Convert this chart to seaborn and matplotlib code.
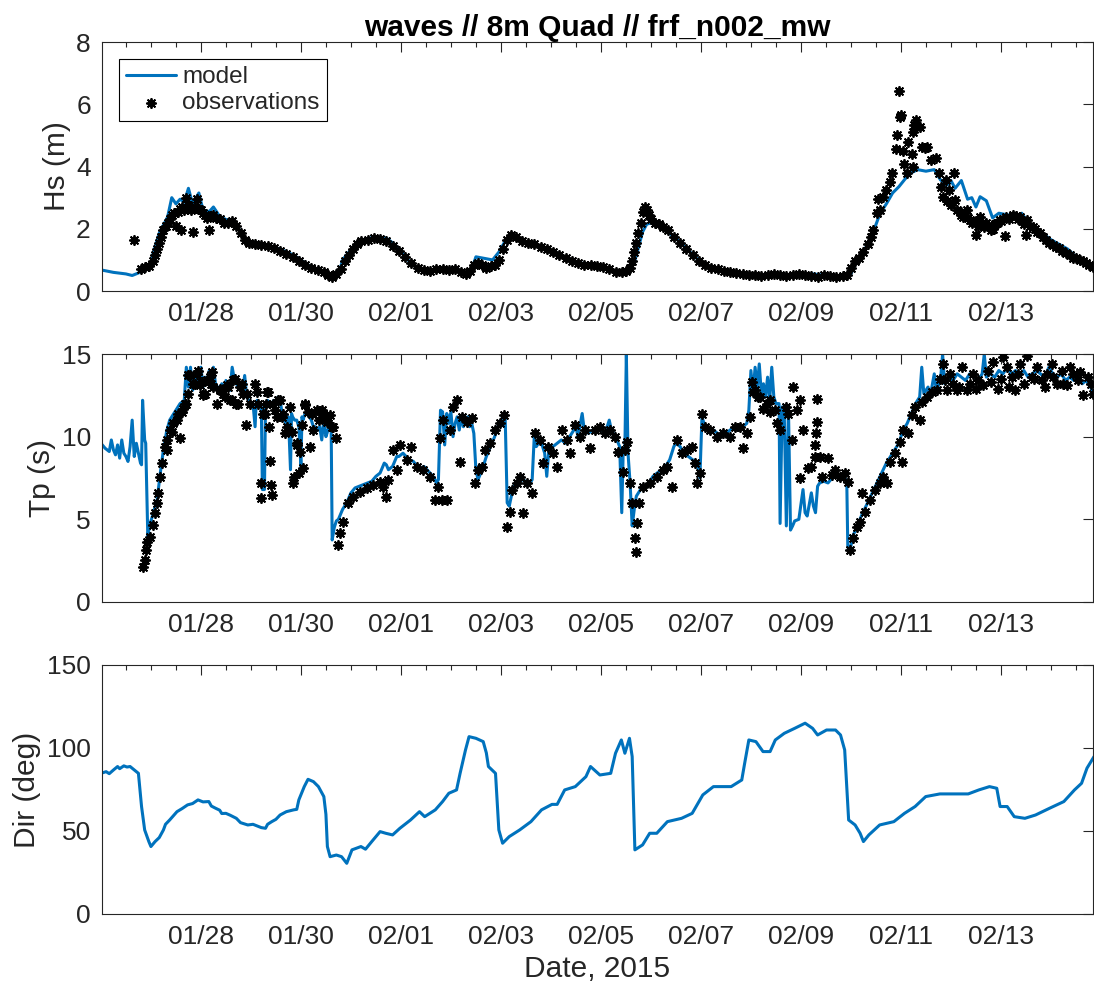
import numpy as np
import pandas as pd
import matplotlib
matplotlib.use("Agg")
import matplotlib.pyplot as plt
import matplotlib.dates as mdates
import matplotlib.ticker as mticker
import seaborn as sns

# ---------------- data (hours since 2015-01-26 00:00) ----------------
hs_model_hours = [0, 6, 12, 15, 18, 21, 24, 25, 28, 32, 34, 36, 38, 40, 42, 44, 47, 49, 52, 54, 57, 60, 64,
                  67, 70, 75, 78, 81, 86, 91, 95, 99, 104, 107, 110, 112, 115, 116, 119, 122, 126, 129, 132,
                  137, 140, 144, 148, 153, 158, 163, 168, 172, 175, 178, 180, 184, 188, 191, 194, 197, 200,
                  205, 212, 218, 224, 230, 236, 242, 246, 250, 253, 256, 258, 260, 262, 265, 270, 275, 280,
                  285, 290, 296, 302, 310, 318, 324, 330, 336, 342, 348, 354, 358, 360, 362, 365, 368, 371,
                  374, 377, 380, 383, 386, 389, 392, 396, 400, 403, 406, 408, 410, 413, 416, 418, 420, 422,
                  425, 428, 431, 435, 440, 442, 444, 448, 452, 456, 460, 464, 468, 472, 476]
hs_model_vals = [0.68, 0.6, 0.55, 0.5, 0.58, 0.68, 0.85, 1.2, 1.86, 2.38, 3.0, 2.8, 2.95, 2.85, 3.3, 2.8, 3.15,
                 2.6, 2.55, 2.7, 2.4, 2.3, 2.25, 1.9, 1.6, 1.55, 1.5, 1.45, 1.35, 1.2, 1.05, 0.85, 0.7, 0.6,
                 0.45, 0.5, 0.75, 1.0, 1.25, 1.45, 1.6, 1.7, 1.75, 1.7, 1.55, 1.3, 0.95, 0.68, 0.65, 0.7, 0.72,
                 0.65, 0.55, 0.7, 1.1, 1.05, 1.0, 1.25, 1.6, 1.8, 1.7, 1.55, 1.4, 1.25, 1.05, 0.9, 0.85, 0.75,
                 0.65, 0.6, 0.65, 0.9, 1.4, 1.9, 2.15, 2.2, 2.0, 1.75, 1.45, 1.1, 0.85, 0.7, 0.6, 0.55, 0.48,
                 0.5, 0.45, 0.5, 0.55, 0.5, 0.48, 0.45, 0.55, 0.85, 1.15, 1.5, 1.95, 2.5, 2.8, 3.15, 3.35, 3.6,
                 3.8, 3.9, 3.85, 3.9, 3.57, 3.4, 3.55, 3.3, 3.55, 2.95, 3.0, 2.7, 3.03, 2.9, 2.35, 2.5, 2.45,
                 2.4, 2.5, 2.3, 2.0, 1.85, 1.65, 1.5, 1.35, 1.1, 0.9, 0.8]

hs_obs_hours = [16, 19, 21, 23, 25, 26, 27, 28, 29, 30, 31, 32, 33, 34, 35, 36, 37, 38, 38.5, 39, 40, 41, 42,
                43, 44, 45, 46, 47, 48, 49, 50, 51, 52, 53, 54, 55, 57, 59, 61, 63, 65, 67, 69, 71, 74, 77,
                80, 83, 86, 89, 92, 95, 98, 101, 104, 107, 109, 111, 113, 115, 117, 119, 121, 123, 125, 128,
                131, 134, 137, 140, 143, 146, 149, 152, 155, 158, 161, 164, 167, 170, 173, 175, 177, 179, 181,
                183, 185, 187, 189, 191, 193, 195, 197, 199, 202, 205, 208, 211, 214, 217, 220, 223, 226, 229,
                232, 235, 238, 241, 244, 247, 250, 252, 254, 255, 256, 257, 258, 259, 260, 261, 262, 263, 264,
                266, 268, 270, 272, 275, 278, 281, 284, 287, 290, 293, 296, 299, 302, 305, 308, 311, 314, 317,
                320, 323, 326, 329, 332, 335, 338, 341, 344, 347, 350, 353, 356, 358, 360, 362, 364, 366, 368,
                369.5, 370.7, 372.3, 373, 374, 375.5, 377, 378.7, 379.5, 381.6, 382, 383.5, 384, 383, 385,
                385.5, 386.7, 387.5, 389.5, 389.8, 390, 390.5, 391.4, 393, 394, 395.5, 396.5, 398.6, 401,
                402.5, 403, 404, 405.6, 406, 407, 408, 409.5, 410, 411, 412.6, 413, 414, 415.7, 416, 417, 418,
                419.8, 420, 421, 422, 423, 424, 425, 426, 427, 428.3, 429, 430, 431.5, 432, 433, 434, 434.6,
                436, 437.8, 439, 440, 441, 442, 443, 444, 444.5, 446, 447.4, 448.5, 449.5, 450.6, 452, 453.8,
                455, 457, 458.5, 460, 461.5, 463.4, 465, 466.6, 468, 470, 471.5, 473, 474.5, 476]
hs_obs_vals = [1.64, 0.72, 0.78, 0.82, 0.95, 1.15, 1.35, 1.55, 1.75, 1.95, 2.1, 2.2, 2.3, 2.45, 2.5, 2.1, 2.55,
               2.65, 1.95, 2.7, 2.6, 3.0, 2.75, 2.6, 1.9, 2.7, 2.95, 2.65, 2.6, 2.5, 2.45, 2.35, 1.95, 2.4, 2.45,
               2.35, 2.3, 2.2, 2.2, 2.25, 2.1, 1.85, 1.65, 1.55, 1.5, 1.48, 1.45, 1.38, 1.3, 1.2, 1.1, 0.95,
               0.85, 0.75, 0.68, 0.6, 0.5, 0.45, 0.55, 0.7, 0.95, 1.15, 1.35, 1.5, 1.6, 1.65, 1.7, 1.68, 1.6,
               1.45, 1.3, 1.1, 0.9, 0.75, 0.68, 0.65, 0.7, 0.7, 0.68, 0.72, 0.6, 0.55, 0.65, 0.85, 0.9, 0.85,
               0.75, 0.8, 0.85, 1.0, 1.35, 1.65, 1.8, 1.75, 1.6, 1.55, 1.5, 1.4, 1.35, 1.25, 1.15, 1.05, 0.98,
               0.9, 0.85, 0.85, 0.82, 0.78, 0.7, 0.62, 0.6, 0.65, 0.75, 0.95, 1.25, 1.55, 1.85, 2.2, 2.55, 2.7,
               2.6, 2.45, 2.3, 2.2, 2.15, 2.05, 1.95, 1.75, 1.55, 1.35, 1.15, 0.95, 0.85, 0.75, 0.7, 0.65, 0.6,
               0.58, 0.55, 0.52, 0.5, 0.48, 0.5, 0.55, 0.5, 0.48, 0.5, 0.55, 0.52, 0.48, 0.45, 0.5, 0.48, 0.45,
               0.48, 0.5, 0.75, 0.95, 1.05, 1.25, 1.5, 1.75, 1.96, 2.5, 2.95, 2.6, 3.03, 3.25, 3.5, 3.78, 4.55,
               5.0, 5.6, 5.65, 6.44, 4.5, 4.08, 3.78, 4.8, 4.4, 5.12, 4.0, 5.34, 5.5, 5.28, 4.64, 4.6, 4.64, 4.2,
               4.27, 3.78, 3.35, 3.03, 3.57, 2.9, 3.25, 2.75, 3.78, 2.93, 2.6, 2.55, 2.45, 2.39, 2.6, 2.35, 2.28,
               2.2, 1.8, 2.25, 2.1, 2.39, 2.2, 2.05, 2.18, 2.1, 1.95, 2.0, 2.15, 2.2, 2.28, 2.25, 2.3, 1.78, 2.39,
               2.3, 2.44, 2.4, 2.3, 2.39, 2.25, 2.15, 1.8, 2.28, 2.1, 2.07, 2.0, 1.9, 1.85, 1.75, 1.64, 1.55,
               1.48, 1.42, 1.37, 1.3, 1.21, 1.15, 1.05, 1.05, 1.0, 0.95, 0.89, 0.85, 0.78]

tp_model_hours = [0, 2, 4, 5, 6, 7, 8, 9, 10, 11, 12, 13, 14, 15, 16, 17, 18, 19, 19.5, 20, 21, 21.5, 22.5, 23.5,
                  25, 27, 28.5, 30, 31.5, 33, 35, 37, 38, 40, 41, 42, 43, 44, 45, 46, 47, 48, 49, 50, 51, 52, 53,
                  54, 55, 56, 57, 58, 59, 60, 61, 62, 63, 64, 65, 66, 67, 68, 69, 70, 71, 72, 73, 74, 74.5, 75,
                  76, 77, 77.5, 78.5, 79, 80, 81, 82, 83, 84, 85, 86, 87, 88, 89, 90, 91, 91.5, 92, 93, 94, 95,
                  96, 96.5, 97, 98, 99, 100, 101, 102, 103, 104, 105, 106, 107, 108, 109, 110, 110.5, 111, 112,
                  113, 114, 116, 118, 120, 122, 124, 126, 128, 130, 132, 134, 136, 137, 138, 140, 142, 143, 145,
                  148, 150, 153, 155, 158, 160, 161, 162, 163, 164, 165, 166, 167, 168, 169, 170, 171, 172, 173,
                  174, 175, 176, 177, 178, 179, 180, 181, 183, 185, 187, 189, 191, 193, 194, 195, 196, 198, 200,
                  202, 204, 206, 207, 208, 209, 210, 211, 212, 213, 214, 215, 217, 219, 221, 223, 224, 226, 228,
                  229, 231, 232, 234, 236, 238, 240, 242, 244, 245, 247, 249, 250, 250.7, 251.5, 252.2, 253, 254,
                  255, 256, 257, 259, 261, 263, 265, 267, 269, 271, 273, 275, 276, 278, 280, 282, 284, 286, 287.5,
                  288.5, 290, 292, 294, 296, 298, 300, 302, 304, 306, 308, 310, 311, 312, 313, 314, 315, 316, 317,
                  318, 319, 320, 321, 322, 323, 324, 325.5, 326, 327, 328, 329, 330, 331, 332, 333, 335, 337, 338,
                  339, 341, 342, 343, 344, 345, 347, 349, 351, 353, 355, 357, 358, 358.5, 360, 361, 363, 365, 368,
                  371, 374, 377, 380, 383, 385, 387, 389, 391, 393, 394, 395, 397, 398, 400, 401, 403, 404, 405,
                  407, 409, 411, 413, 415, 417, 419, 421, 423, 424, 425, 427, 429, 431, 433, 435, 437, 439, 441,
                  443, 445, 447, 449, 451, 453, 455, 457, 459, 461, 463, 465, 467, 469, 471, 473, 475, 476.5]
tp_model_vals = [9.6, 9.3, 9.1, 9.8, 9.2, 8.9, 9.5, 8.7, 9.8, 9.0, 8.8, 8.5, 9.4, 11.0, 8.8, 9.6, 9.0, 8.4, 8.3,
                 12.2, 9.8, 9.6, 4.0, 4.7, 5.3, 6.2, 7.8, 9.2, 10.3, 11.0, 11.4, 11.8, 12.0, 12.2, 14.2, 13.0,
                 14.2, 12.8, 13.2, 13.7, 13.3, 14.2, 13.0, 13.6, 13.2, 14.0, 13.5, 14.2, 13.2, 13.0, 12.8, 13.2,
                 12.9, 13.4, 13.0, 12.8, 14.2, 13.5, 13.2, 13.0, 13.2, 12.8, 13.7, 12.4, 12.2, 11.8, 12.0, 10.6,
                 12.0, 12.2, 12.0, 11.8, 6.8, 6.8, 12.0, 12.2, 11.8, 12.0, 12.2, 11.9, 12.4, 12.2, 11.4, 11.0,
                 10.8, 11.2, 8.0, 11.4, 11.2, 11.0, 11.0, 10.6, 8.2, 11.2, 11.0, 11.4, 11.4, 11.2, 11.0, 10.6,
                 10.6, 10.4, 10.6, 9.8, 11.0, 10.0, 10.4, 11.0, 10.8, 3.75, 4.5, 4.9, 5.0, 5.6, 6.0, 6.6, 6.9,
                 7.0, 7.1, 7.2, 7.3, 7.6, 7.8, 8.4, 8.3, 8.0, 8.2, 8.8, 8.8, 9.0, 8.6, 8.5, 8.0, 8.2, 7.8, 7.5,
                 7.2, 7.4, 11.6, 11.5, 9.5, 11.4, 10.8, 11.5, 10.0, 10.8, 11.2, 10.4, 11.2, 10.6, 11.0, 11.2,
                 10.6, 10.8, 10.2, 8.0, 7.4, 8.0, 8.8, 9.4, 10.0, 10.8, 11.2, 11.4, 6.0, 5.8, 7.0, 7.2, 7.4, 7.3,
                 7.2, 7.4, 10.0, 9.4, 9.6, 9.8, 9.4, 9.0, 7.6, 9.2, 9.4, 9.6, 9.8, 9.6, 9.8, 10.2, 10.6, 10.0,
                 11.4, 10.4, 10.2, 10.4, 10.4, 10.4, 10.2, 11.0, 10.4, 10.0, 9.4, 5.4, 9.2, 9.4, 15.0, 9.0, 7.2,
                 4.6, 5.6, 6.4, 6.8, 7.0, 7.2, 7.6, 7.8, 8.0, 8.2, 8.6, 9.4, 9.6, 9.4, 9.0, 8.8, 8.6, 8.5, 7.5,
                 11.2, 10.6, 10.4, 10.4, 10.2, 10.0, 10.2, 10.4, 10.6, 10.6, 10.6, 10.8, 11.6, 14.0, 12.6, 14.2,
                 13.0, 14.4, 12.6, 13.2, 12.4, 13.6, 12.2, 14.2, 12.4, 12.0, 12.0, 4.75, 11.8, 11.4, 4.6, 11.8,
                 4.35, 4.6, 4.9, 5.0, 6.8, 5.4, 5.2, 6.6, 5.8, 5.4, 7.0, 7.2, 7.3, 7.2, 7.5, 7.6, 7.4, 7.5, 7.3,
                 3.3, 3.4, 4.0, 4.6, 5.2, 6.0, 6.8, 7.6, 8.4, 9.0, 9.6, 10.4, 10.8, 11.4, 12.0, 12.4, 14.2, 12.6,
                 13.0, 12.4, 13.8, 12.8, 13.4, 15.0, 13.2, 13.6, 13.4, 13.8, 13.6, 13.4, 13.8, 13.6, 13.4, 13.8,
                 15.0, 13.6, 13.8, 13.6, 14.0, 13.8, 14.2, 13.8, 14.0, 13.8, 14.0, 13.6, 13.8, 14.0, 13.8, 13.6,
                 14.2, 13.8, 13.6, 13.8, 13.4, 13.6, 13.4, 13.6, 13.2, 13.4, 13.0, 12.6]

# observed Tp as (hour, value) pairs
tp_obs = [(20, 2.14), (21, 2.54), (21.5, 3.15), (22.2, 3.65), (23.5, 3.95), (25, 4.66), (26, 5.36), (27, 5.97),
          (27.5, 6.57), (28.3, 7.58), (29.4, 8.39), (30.7, 9.4), (31.5, 9.2), (31.8, 9.8), (33, 10.4),
          (33.9, 10.3), (34.7, 10.8), (36.3, 11.0), (37.9, 9.9), (37, 11.4), (38.7, 11.5), (39.5, 11.7),
          (40.3, 12.0), (41, 12.0), (41.9, 13.7), (42, 12.6), (42.7, 13.7), (44.3, 13.2), (45.1, 13.2),
          (45.9, 13.8), (46.7, 14.0), (47.5, 13.1), (48.3, 13.3), (49, 12.5), (49.9, 12.6), (50.7, 13.4),
          (52.3, 13.6), (52.6, 13.2), (53.1, 13.9), (53.9, 13.0), (55.5, 12.0), (57, 12.9), (57.1, 12.8),
          (58.7, 12.6), (59.5, 12.4), (60.3, 13.1), (61.1, 13.0), (62, 12.2), (62.7, 12.2), (63.5, 13.4),
          (64.3, 13.5), (65, 12.0), (65.9, 12.0), (66.7, 13.0), (67.5, 13.2), (68.3, 12.6), (69.6, 10.7),
          (69.9, 12.6), (71.5, 12.0), (73.9, 13.2), (74.7, 12.7), (75.5, 12.0), (76.6, 7.2), (77, 6.27),
          (77.9, 11.4), (78.7, 11.4), (79.2, 12.0), (79.5, 12.7), (80.3, 12.7), (80.8, 10.6), (81.1, 8.5),
          (81.4, 7.08), (81.9, 6.47), (82.7, 12.0), (83.5, 11.6), (84.3, 11.2), (85, 12.2), (85.9, 12.2),
          (86.7, 11.2), (87.5, 11.4), (88.3, 10.2), (89.1, 10.6), (90.7, 11.8), (91.5, 10.3), (92, 7.2),
          (92.6, 7.58), (93.9, 9.5), (94, 9.6), (95.2, 7.78), (95.5, 9.1), (96.3, 10.7), (97, 8.1),
          (97.9, 12.0), (98, 11.9), (99.5, 11.5), (100.3, 9.4), (101.2, 11.4), (101.9, 10.4), (103.5, 11.6),
          (104.5, 11.0), (105.9, 11.4), (106, 11.6), (107.5, 11.0), (108.3, 10.9), (109.1, 11.2),
          (109.9, 11.3), (110.7, 10.6), (111.5, 10.6), (113, 9.9), (114, 3.45), (114.7, 4.15), (116.3, 4.86),
          (118.7, 5.97), (121, 6.37), (124.3, 6.67), (127.5, 6.88), (130.7, 7.08), (134, 7.28), (135.5, 6.98),
          (137, 6.37), (138, 7.38), (140.3, 9.19), (142, 7.98), (143.5, 9.5), (146.7, 8.59), (149, 9.4),
          (151.5, 8.19), (154.7, 7.98), (158, 7.58), (160.3, 6.17), (162, 6.98), (163.6, 6.17), (162.8, 9.9),
          (164.4, 11.0), (166, 6.17), (167.6, 10.4), (169.2, 11.8), (171, 12.2), (172.4, 8.49), (173.2, 11.2),
          (175.6, 10.9), (178, 11.1), (179.6, 7.18), (181.2, 7.98), (182.8, 8.19), (184.4, 9.19), (186.8, 9.6),
          (189.2, 10.4), (191.6, 10.8), (193.5, 11.3), (194.8, 4.56), (196.4, 5.46), (197.2, 6.77),
          (199.6, 7.18), (201.2, 7.58), (202.5, 5.36), (204.4, 7.18), (206.8, 6.57), (208.4, 10.2),
          (210.8, 9.8), (212.4, 8.39), (214.8, 9.4), (217.2, 8.99), (218.8, 8.19), (221.2, 10.4), (223.6, 9.8),
          (225.2, 8.99), (227.6, 10.7), (230, 10.0), (232.4, 10.4), (234.8, 9.29), (237.2, 10.4),
          (239.6, 10.6), (242, 10.2), (244.4, 10.4), (246.8, 10.0), (248.4, 9.09), (250.8, 7.88),
          (251.6, 9.19), (252.4, 9.7), (254, 7.18), (254.8, 5.97), (256.4, 3.85), (256.6, 3.04), (257.2, 4.76),
          (258.5, 5.97), (260.4, 6.98), (263.6, 7.18), (266.8, 7.58), (270, 7.98), (271.6, 8.19), (274, 6.98),
          (276.4, 9.8), (278.8, 8.99), (281.2, 9.19), (283.6, 9.4), (285.2, 8.39), (286, 7.18), (287.6, 7.78),
          (288.4, 11.4), (290, 10.6), (292.4, 10.4), (295.6, 10.0), (298.8, 10.2), (302, 10.0), (304.4, 10.6),
          (306.8, 10.6), (308.4, 9.29), (310, 10.2), (311.6, 11.2), (312.4, 13.3), (313.1, 12.7), (314, 12.8),
          (315.6, 12.4), (316.3, 12.4), (318, 11.7), (319.6, 12.0), (321, 11.5), (321.2, 12.2), (323.6, 11.6),
          (324.3, 10.8), (325.9, 10.4), (329, 11.8), (330, 11.4), (331.6, 9.8), (332, 13.0), (334, 11.6),
          (335.4, 12.2), (335.7, 7.48), (337, 10.4), (339.5, 8.08), (341, 8.19), (342.6, 8.79), (342.9, 9.5),
          (343.2, 10.2), (343.5, 10.9), (343.8, 12.3), (345, 8.79), (346, 7.58), (349, 8.69), (350.7, 7.68),
          (352.3, 7.98), (354.7, 7.58), (357, 7.78), (358.8, 7.28), (359.6, 3.15), (361.2, 3.85),
          (362.8, 4.56), (364.4, 4.86), (365.2, 6.57), (366.8, 5.46), (369.2, 6.17), (371.6, 6.77),
          (374, 7.18), (375.6, 7.58), (377.2, 7.18), (378.8, 8.49), (381.2, 8.99), (383.6, 9.7), (384.4, 8.49),
          (385.2, 10.4), (387.6, 10.2), (389.2, 11.3), (390.8, 11.8), (393.2, 11.0), (394, 12.1),
          (396.4, 12.4), (398.8, 12.7), (401.2, 12.8), (402.8, 13.5), (404.4, 14.4), (405, 13.4), (406, 12.8),
          (407.6, 13.8), (409, 13.2), (410.8, 12.8), (412, 13.0), (413.2, 14.2), (415.6, 12.8), (417, 13.2),
          (418.8, 13.8), (420, 12.9), (421.2, 13.4), (423.6, 13.1), (426, 14.0), (427, 13.3), (428.4, 14.5),
          (430.8, 12.9), (432, 13.5), (433.2, 14.8), (434.8, 14.2), (436, 13.0), (437.2, 13.6), (438.8, 12.8),
          (440, 13.8), (441.2, 14.4), (443, 13.2), (444.4, 14.9), (446.8, 13.6), (448, 13.5), (449.2, 14.2),
          (451.6, 13.4), (453, 13.0), (454, 13.8), (456.4, 14.4), (457, 13.6), (458.8, 13.2), (461.2, 14.0),
          (462, 13.2), (463.6, 13.1), (465, 14.2), (466.8, 13.8), (469.2, 13.4), (470, 13.9), (471.6, 12.5),
          (474, 13.6), (475, 13.2), (476.4, 12.6)]

# modelled direction as (hour, value) pairs
dir_model = [(0, 84.7), (2.5, 85.7), (4, 84.5), (6, 86.7), (8, 88.8), (9, 87.5), (11, 89.2), (12.5, 88.5),
             (14, 88.8), (17, 85.7), (18, 84.7), (19.5, 64.7), (21, 50.6), (23, 43.6), (24, 40.6), (26, 43.6),
             (28, 46.0), (30, 50.6), (31, 54.0), (33, 56.6), (36.5, 61.6), (39, 63.5), (41.6, 65.7), (44, 66.5),
             (46.6, 68.7), (49, 67.5), (51.8, 67.7), (53, 65.0), (55, 63.7), (57, 62.5), (58, 60.5), (60, 60.6),
             (62, 59.5), (65, 57.6), (67, 55.0), (70.5, 53.6), (73, 54.0), (75, 53.0), (77, 52.0), (79, 51.6),
             (80, 54.0), (82, 55.6), (84, 57.0), (86, 59.6), (89, 61.6), (92.5, 62.7), (94, 63.0), (95, 68.7),
             (97.6, 76.7), (99.4, 81.1), (102, 79.7), (104.4, 76.7), (107, 70.7), (108, 60.0), (108.7, 40.6),
             (110, 34.5), (113, 35.5), (115.5, 34.5), (118, 30.5), (120.5, 38.6), (124.8, 40.6), (127, 39.0),
             (130, 43.6), (134, 49.6), (136.7, 48.6), (140, 47.6), (143.5, 51.6), (148.6, 56.6), (152.9, 61.6),
             (155.4, 58.6), (160.5, 62.7), (164, 67.7), (167, 72.7), (170.7, 74.7), (172.4, 84.7), (175, 98.8),
             (176.7, 106.8), (180, 105.8), (183.5, 103.8), (185, 97.0), (186, 88.8), (189.4, 84.7),
             (191, 50.6), (192.8, 42.6), (196, 46.6), (201, 50.6), (206.4, 55.6), (211.5, 62.7), (216.5, 66.0),
             (219, 66.0), (222.6, 74.7), (227.7, 76.7), (232.8, 82.7), (235, 88.8), (239.5, 83.7),
             (244.7, 84.7), (247, 96.8), (249.8, 104.8), (251.5, 96.8), (253.7, 105.8), (255, 94.8),
             (256.3, 38.6), (260, 41.6), (263.4, 48.6), (266.8, 48.6), (271.9, 55.6), (278.7, 57.6),
             (283.8, 60.6), (288.9, 71.7), (294, 76.7), (302.5, 76.7), (307.6, 80.7), (309, 90.8),
             (311, 104.8), (314.4, 103.8), (317.8, 97.8), (321.2, 97.8), (323.7, 104.8), (328, 108.8),
             (333, 111.8), (338, 114.9), (341.6, 111.8), (344, 107.8), (348.3, 110.8), (352.6, 110.8),
             (355, 107.8), (357, 98.8), (358.9, 56.6), (362, 53.6), (364.4, 48.6), (366, 43.6), (368.6, 47.6),
             (373.8, 53.6), (380.6, 55.6), (385.7, 60.6), (390.8, 64.7), (395.9, 70.7), (402.7, 72.3),
             (409.5, 72.3), (416.3, 72.3), (421.4, 74.7), (426.5, 76.7), (430, 75.7), (431.6, 64.7),
             (435, 64.7), (438.4, 58.6), (443.5, 57.6), (448.6, 59.6), (455.4, 63.7), (462.2, 67.7),
             (467.3, 74.7), (470.7, 78.7), (473.3, 87.8), (476.7, 94.8)]

major_tick_dates = ["2015-01-28", "2015-01-30", "2015-02-01", "2015-02-03", "2015-02-05",
                    "2015-02-07", "2015-02-09", "2015-02-11", "2015-02-13"]
hs_yticks = [0, 2, 4, 6, 8]
tp_yticks = [0, 5, 10, 15]
dir_yticks = [0, 50, 100, 150]

title_text = "waves // 8m Quad // frf_n002_mw"
ylabels = ["Hs (m)", "Tp (s)", "Dir (deg)"]
xlabel_text = "Date, 2015"

# ---------------- styling ----------------
sns.set_style("white")
plt.rcParams["font.family"] = ["Liberation Sans", "DejaVu Sans"]
BLUE = "#0072BD"
AXCOL = "#262626"

START = pd.Timestamp("2015-01-26 00:00")


def to_time(hours):
    return START + pd.to_timedelta(np.asarray(hours, dtype=float), unit="h")


tp_obs_hours = [p[0] for p in tp_obs]
tp_obs_vals = [p[1] for p in tp_obs]
dir_model_hours = [p[0] for p in dir_model]
dir_model_vals = [p[1] for p in dir_model]

fig = plt.figure(figsize=(10.94, 9.93), dpi=100)
left, width = 0.0932, 0.9059
ax1 = fig.add_axes([left, 0.7069, width, 0.2508])
ax2 = fig.add_axes([left, 0.3938, width, 0.2497])
ax3 = fig.add_axes([left, 0.0796, width, 0.2508])

STAR = (8, 2, 0)
MS = 44
MLW = 1.35

# Hs
sns.lineplot(x=to_time(hs_model_hours), y=hs_model_vals, ax=ax1, color=BLUE, linewidth=2.2,
             estimator=None, label="model")
sns.scatterplot(x=to_time(hs_obs_hours), y=hs_obs_vals, ax=ax1, marker=STAR, color="black", s=MS,
                linewidth=MLW, zorder=3, label="observations")
# Tp
sns.lineplot(x=to_time(tp_model_hours), y=tp_model_vals, ax=ax2, color=BLUE, linewidth=2.2, estimator=None)
sns.scatterplot(x=to_time(tp_obs_hours), y=tp_obs_vals, ax=ax2, marker=STAR, color="black", s=MS,
                linewidth=MLW, zorder=3)
# Dir
sns.lineplot(x=to_time(dir_model_hours), y=dir_model_vals, ax=ax3, color=BLUE, linewidth=2.2, estimator=None)

xlim = (START + pd.Timedelta(hours=0.5), START + pd.Timedelta(hours=476.2))
major_locs = mdates.date2num(pd.to_datetime(major_tick_dates).to_pydatetime())
for ax, yt, lab in zip([ax1, ax2, ax3], [hs_yticks, tp_yticks, dir_yticks], ylabels):
    ax.set_xlim(*xlim)
    ax.set_ylim(yt[0], yt[-1])
    ax.set_yticks(yt)
    ax.xaxis.set_major_locator(mticker.FixedLocator(major_locs))
    ax.xaxis.set_major_formatter(mdates.DateFormatter("%m/%d"))
    ax.xaxis.set_minor_locator(mdates.HourLocator(byhour=[0, 12]))
    ax.tick_params(axis="both", which="both", direction="in", top=True, right=True, color=AXCOL,
                   width=0.8, labelcolor=AXCOL, labelsize=19, pad=8)
    ax.tick_params(axis="both", which="major", length=7)
    ax.tick_params(axis="both", which="minor", length=3.5)
    for sp in ax.spines.values():
        sp.set_visible(True)
        sp.set_color(AXCOL)
        sp.set_linewidth(0.8)
    ax.set_ylabel(lab, fontsize=21.5, color=AXCOL, labelpad=4)
    ax.set_xlabel("")
    ax.grid(False)

ax3.set_xlabel(xlabel_text, fontsize=21.5, color=AXCOL, labelpad=4)
ax1.set_title(title_text, fontsize=21.5, fontweight="bold", color="black", pad=4)

leg = ax1.legend(loc="upper left", bbox_to_anchor=(0.017, 0.932), borderaxespad=0, fontsize=17.5,
                 frameon=True, fancybox=False, edgecolor="black", framealpha=1, handlelength=2.05,
                 handletextpad=0.25, borderpad=0.3, labelspacing=0.15)
leg.get_frame().set_linewidth(0.8)

fig.savefig("out.png", dpi=100)
